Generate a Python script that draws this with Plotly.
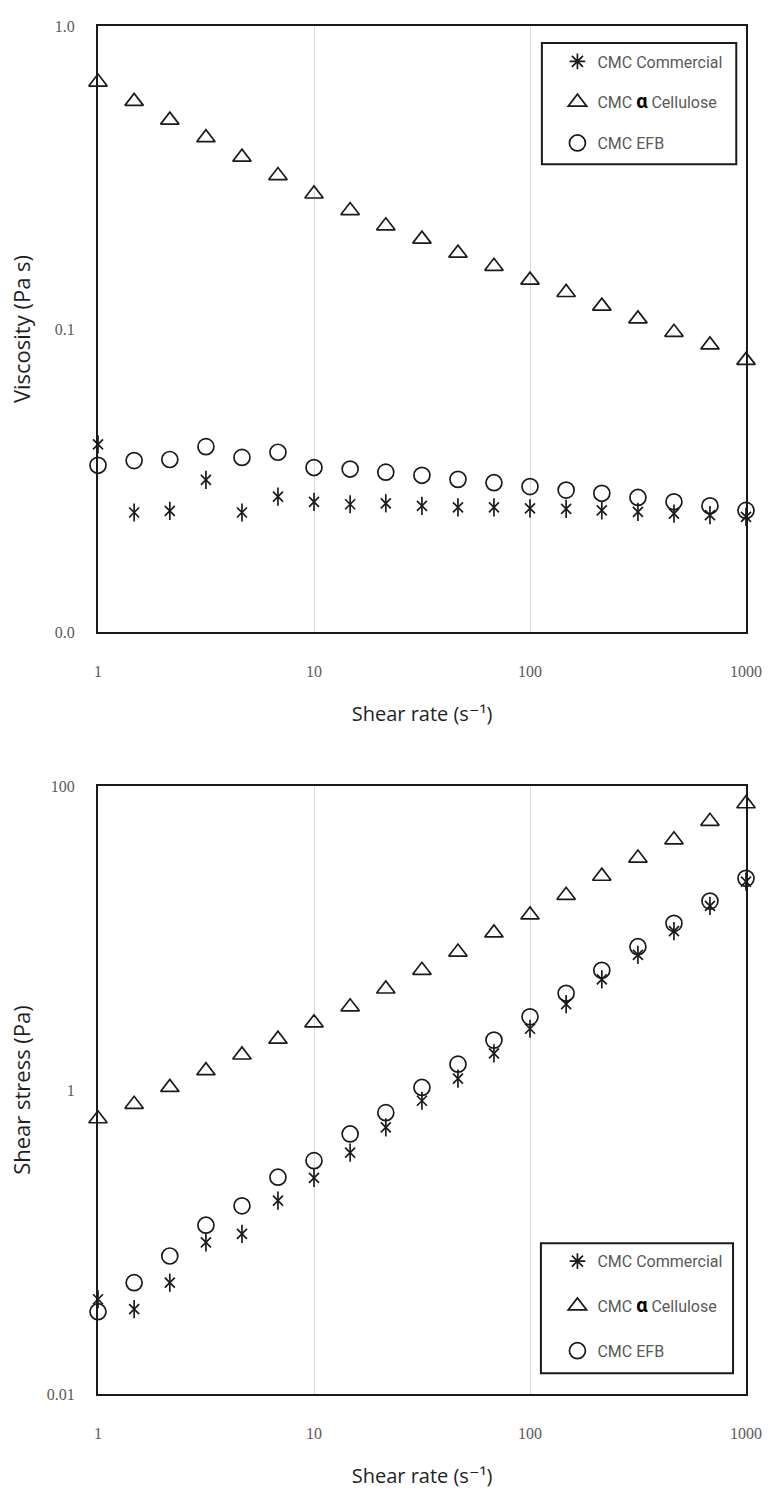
import plotly.graph_objects as go

# ---------------- data ----------------
shear_rate = [1, 1.47, 2.15, 3.16, 4.64, 6.81, 10, 14.7, 21.5, 31.6,
              46.4, 68.1, 100, 147, 215, 316, 464, 681, 1000]

visc_commercial = [0.0416, 0.0248, 0.0251, 0.0318, 0.0248, 0.0280, 0.0269, 0.0264, 0.0266, 0.0261,
                   0.0258, 0.0258, 0.0256, 0.0255, 0.0252, 0.0249, 0.0246, 0.0243, 0.0240]
visc_alpha = [0.653, 0.564, 0.489, 0.428, 0.369, 0.321, 0.279, 0.246, 0.219, 0.198,
              0.178, 0.161, 0.145, 0.132, 0.119, 0.108, 0.0975, 0.0886, 0.0788]
visc_efb = [0.0355, 0.0368, 0.0371, 0.0409, 0.0377, 0.0392, 0.0349, 0.0345, 0.0337, 0.0329,
            0.0319, 0.0311, 0.0302, 0.0294, 0.0287, 0.0278, 0.0269, 0.0261, 0.0252]

stress_commercial = [0.0420, 0.0362, 0.0540, 0.0995, 0.113, 0.187, 0.264, 0.387, 0.568, 0.85,
                     1.19, 1.74, 2.53, 3.68, 5.35, 7.76, 11.1, 16.3, 23.5]
stress_alpha = [0.647, 0.805, 1.04, 1.34, 1.70, 2.16, 2.77, 3.53, 4.62, 6.13,
                8.09, 10.8, 14.2, 19.1, 25.5, 33.6, 44.3, 58.6, 76.5]
stress_efb = [0.0348, 0.0540, 0.0809, 0.129, 0.173, 0.267, 0.343, 0.514, 0.710, 1.04,
              1.48, 2.13, 3.03, 4.33, 6.13, 8.77, 12.5, 17.5, 24.7]

x_tickvals = [1, 10, 100, 1000]
x_ticktext = ["1", "10", "100", "1000"]
visc_tickvals = [0.01, 0.1, 1]
visc_ticktext = ["0.0", "0.1", "1.0"]
stress_tickvals = [0.01, 1, 100]
stress_ticktext = ["0.01", "1", "100"]

series_names = ["CMC Commercial",
                'CMC <span style="font-size:20px;color:#000000"><b>α</b></span> Cellulose',
                "CMC EFB"]
x_title = "Shear rate (s⁻¹)"

# ---------------- styles ----------------
INK = "#1a1a1a"
LW = 1.7
TICK_FONT = dict(family="Liberation Serif, DejaVu Serif, serif", size=16, color="#595959")
XTITLE_FONT = dict(family="Open Sans, DejaVu Sans, sans-serif", size=20, color="#1f1f1f")
YTITLE_FONT = dict(family="Open Sans, DejaVu Sans, sans-serif", size=22, color="#1f1f1f")
LEG_FONT = dict(family="Roboto, Liberation Sans, sans-serif", size=16, color="#595959")

fig = go.Figure()


def mk(symbol, size):
    return dict(symbol=symbol, size=size, color=INK, line=dict(color=INK, width=LW))


def add_panel(xa, ya, legend_id, y_comm, y_alpha, y_efb):
    # legend-only entry for the 6-armed asterisk
    fig.add_trace(go.Scatter(x=[None], y=[None], mode="markers", name=series_names[0],
                             legend=legend_id, legendgroup=legend_id + "a",
                             marker=mk("asterisk-open", 13), xaxis=xa, yaxis=ya))
    fig.add_trace(go.Scatter(x=shear_rate, y=y_comm, mode="markers", showlegend=False,
                             legendgroup=legend_id + "a", cliponaxis=False,
                             marker=mk("x-thin-open", 10), xaxis=xa, yaxis=ya))
    fig.add_trace(go.Scatter(x=shear_rate, y=y_comm, mode="markers", showlegend=False,
                             legendgroup=legend_id + "a", cliponaxis=False,
                             marker=mk("line-ns-open", 13), xaxis=xa, yaxis=ya))
    fig.add_trace(go.Scatter(x=shear_rate, y=y_alpha, mode="markers", name=series_names[1],
                             legend=legend_id, legendgroup=legend_id + "b", cliponaxis=False,
                             marker=mk("triangle-up-open", 16), xaxis=xa, yaxis=ya))
    fig.add_trace(go.Scatter(x=shear_rate, y=y_efb, mode="markers", name=series_names[2],
                             legend=legend_id, legendgroup=legend_id + "c", cliponaxis=False,
                             marker=mk("circle-open", 16), xaxis=xa, yaxis=ya))


add_panel("x", "y", "legend", visc_commercial, visc_alpha, visc_efb)
add_panel("x2", "y2", "legend2", stress_commercial, stress_alpha, stress_efb)

xaxis_common = dict(type="log", range=[0, 3], tickvals=x_tickvals, ticktext=x_ticktext,
                    showgrid=True, gridcolor="#d9d9d9", gridwidth=1,
                    showline=True, linecolor=INK, linewidth=2, mirror=True,
                    ticks="", tickfont=TICK_FONT, ticklabelstandoff=24, zeroline=False,
                    title=dict(text=x_title, font=XTITLE_FONT, standoff=28))
yaxis_common = dict(type="log", showgrid=False, showline=True, linecolor=INK, linewidth=2,
                    mirror=True, ticks="", tickfont=TICK_FONT, ticklabelstandoff=18,
                    zeroline=False)

legend_common = dict(bgcolor="rgba(0,0,0,0)", borderwidth=0, font=LEG_FONT,
                     traceorder="grouped", xanchor="left", yanchor="top",
                     itemsizing="trace")

fig.update_layout(
    width=774, height=1499,
    margin=dict(l=98, r=22, t=26, b=105),
    paper_bgcolor="white", plot_bgcolor="white",
    xaxis=dict(domain=[0, 1], anchor="y", **xaxis_common),
    yaxis=dict(domain=[0.557, 1], anchor="x", range=[-2, 0],
               tickvals=visc_tickvals, ticktext=visc_ticktext,
               title=dict(text="Viscosity (Pa s)", font=YTITLE_FONT, standoff=18),
               **yaxis_common),
    xaxis2=dict(domain=[0, 1], anchor="y2", **xaxis_common),
    yaxis2=dict(domain=[0, 0.4444], anchor="x2", range=[-2, 2],
                tickvals=stress_tickvals, ticktext=stress_ticktext,
                title=dict(text="Shear stress (Pa)", font=YTITLE_FONT, standoff=10),
                **yaxis_common),
    legend=dict(x=0.709, y=0.9865, tracegroupgap=17, **legend_common),
    legend2=dict(x=0.709, y=0.1095, tracegroupgap=21, **legend_common),
    shapes=[
        dict(type="rect", xref="x domain", yref="y domain", x0=0.685, x1=0.985,
             y0=0.772, y1=0.972, line=dict(color=INK, width=2), fillcolor="rgba(0,0,0,0)"),
        dict(type="rect", xref="x2 domain", yref="y2 domain", x0=0.6835, x1=0.980,
             y0=0.034, y1=0.248, line=dict(color=INK, width=2), fillcolor="rgba(0,0,0,0)"),
    ],
)

fig.write_html("out.html")
